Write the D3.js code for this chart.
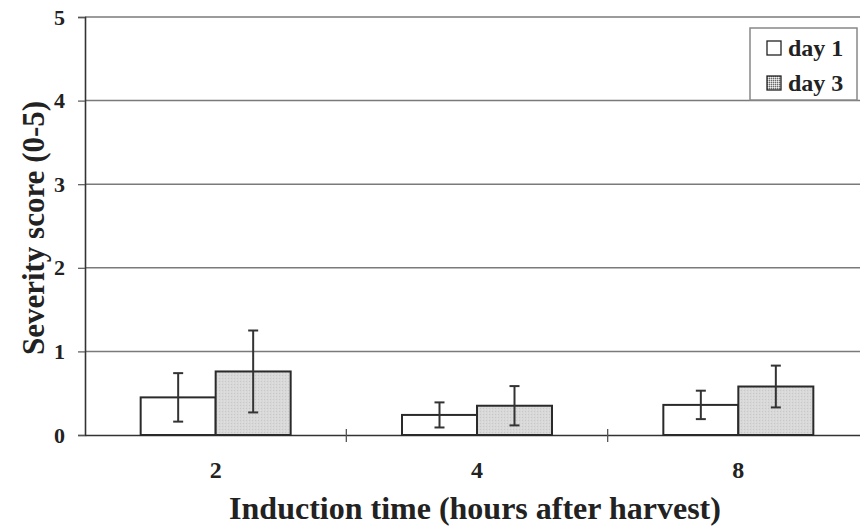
<!DOCTYPE html>
<html>
<head>
<meta charset="utf-8">
<script src="https://cdn.jsdelivr.net/npm/d3@7"></script>
<style>
  html, body { margin: 0; padding: 0; background: #fff; }
  svg { display: block; }
  text { font-family: "Liberation Serif", "Times New Roman", serif; font-weight: bold; fill: #222; }
</style>
</head>
<body>
<svg id="chart" width="860" height="526"></svg>
<script>
// Induction time categories (hours after harvest)
const categories = ["2", "4", "8"];
// Mean severity scores and their error bar half-widths
const day1 = [0.45, 0.24, 0.36];
const day1Err = [0.29, 0.15, 0.17];
const day3 = [0.76, 0.35, 0.58];
const day3Err = [0.49, 0.235, 0.25];
const seriesNames = ["day 1", "day 3"];
const yTicks = [0, 1, 2, 3, 4, 5];

const svg = d3.select("#chart");
const margin = { left: 85, right: -9, top: 17, bottom: 91 };
const W = 860, H = 526;
const serif = "'Liberation Serif', 'Times New Roman', serif";

const x = d3.scaleBand().domain(categories)
  .range([margin.left, W - margin.right]).paddingInner(0).paddingOuter(0);
const y = d3.scaleLinear().domain([0, 5]).range([H - margin.bottom, margin.top]);

// stippled grey fill for the day 3 series
const defs = svg.append("defs");
const pat = defs.append("pattern").attr("id", "stipple")
  .attr("patternUnits", "userSpaceOnUse").attr("width", 3).attr("height", 3);
pat.append("rect").attr("width", 3).attr("height", 3).attr("fill", "#d8d8d8");
pat.append("rect").attr("x", 0).attr("y", 0).attr("width", 1).attr("height", 1).attr("fill", "#c8c8c8");
pat.append("rect").attr("x", 2).attr("y", 1.5).attr("width", 1).attr("height", 1).attr("fill", "#e4e4e4");

const patDark = defs.append("pattern").attr("id", "stippleDark")
  .attr("patternUnits", "userSpaceOnUse").attr("width", 2).attr("height", 2);
patDark.append("rect").attr("width", 2).attr("height", 2).attr("fill", "#bdbdbd");
patDark.append("rect").attr("width", 1).attr("height", 1).attr("fill", "#6a6a6a");
patDark.append("rect").attr("x", 1).attr("y", 1).attr("width", 1).attr("height", 1).attr("fill", "#eee");

// horizontal gridlines
svg.append("g").selectAll("line").data(yTicks.filter(d => d > 0)).join("line")
  .attr("x1", margin.left).attr("x2", W)
  .attr("y1", d => y(d)).attr("y2", d => y(d))
  .attr("stroke", "#7a7a7a").attr("stroke-width", 1.5);

// y axis
const yAxis = d3.axisLeft(y).tickValues(yTicks).tickSize(7).tickPadding(13).tickFormat(d3.format("d"));
const gy = svg.append("g").attr("transform", `translate(${margin.left},0)`).call(yAxis)
  .attr("font-family", serif).attr("font-size", 22);
gy.select(".domain").attr("stroke", "#333").attr("stroke-width", 1.6);
gy.selectAll(".tick line").attr("stroke", "#555").attr("stroke-width", 1.2);
gy.selectAll(".tick text").attr("fill", "#222")
  .style("font-family", serif).style("font-weight", "bold").style("font-size", "22px");

// x axis
const gx = svg.append("g").attr("transform", `translate(0,${y(0)})`)
  .call(d3.axisBottom(x).tickSize(0).tickPadding(26))
  .attr("font-family", serif).attr("font-size", 24);
gx.select(".domain").attr("stroke", "#333").attr("stroke-width", 1.6);
gx.selectAll(".tick text").attr("fill", "#222")
  .style("font-family", serif).style("font-weight", "bold").style("font-size", "24px");

// category divider ticks on the x axis
svg.append("g").selectAll("line").data(categories.slice(1)).join("line")
  .attr("x1", d => x(d)).attr("x2", d => x(d))
  .attr("y1", y(0) - 6).attr("y2", y(0) + 7)
  .attr("stroke", "#555").attr("stroke-width", 1.3);

// grouped bars
const groupWidth = 150;
const rows = categories.map((c, i) => ({
  cat: c,
  vals: [
    { s: seriesNames[0], v: day1[i], e: day1Err[i] },
    { s: seriesNames[1], v: day3[i], e: day3Err[i] }
  ]
}));

const groups = svg.append("g").selectAll("g").data(rows).join("g");
groups.each(function (row) {
  const cx = x(row.cat) + x.bandwidth() / 2;
  const x1 = d3.scaleBand().domain(seriesNames).range([cx - groupWidth / 2, cx + groupWidth / 2]);
  const g = d3.select(this);
  g.selectAll("rect").data(row.vals).join("rect")
    .attr("x", d => x1(d.s)).attr("width", x1.bandwidth())
    .attr("y", d => y(d.v)).attr("height", d => y(0) - y(d.v))
    .attr("fill", d => d.s === "day 1" ? "#fff" : "url(#stipple)")
    .attr("stroke", "#2a2a2a").attr("stroke-width", 2);

  const eb = g.selectAll("g.err").data(row.vals).join("g").attr("class", "err");
  const ex = d => x1(d.s) + x1.bandwidth() / 2;
  eb.append("line").attr("x1", ex).attr("x2", ex)
    .attr("y1", d => y(d.v + d.e)).attr("y2", d => y(d.v - d.e))
    .attr("stroke", "#333").attr("stroke-width", 2);
  eb.append("line").attr("x1", d => ex(d) - 5).attr("x2", d => ex(d) + 5)
    .attr("y1", d => y(d.v + d.e)).attr("y2", d => y(d.v + d.e))
    .attr("stroke", "#333").attr("stroke-width", 2);
  eb.append("line").attr("x1", d => ex(d) - 5).attr("x2", d => ex(d) + 5)
    .attr("y1", d => y(d.v - d.e)).attr("y2", d => y(d.v - d.e))
    .attr("stroke", "#333").attr("stroke-width", 2);
});

// axis titles
svg.append("text").attr("transform", "translate(44,228) rotate(-90)")
  .attr("text-anchor", "middle").style("font-size", "31px")
  .text("Severity score (0-5)");
svg.append("text").attr("x", 475).attr("y", 519)
  .attr("text-anchor", "middle").style("font-size", "32px")
  .text("Induction time (hours after harvest)");

// legend
const lg = svg.append("g");
lg.append("rect").attr("x", 750).attr("y", 28).attr("width", 107).attr("height", 72)
  .attr("fill", "#fff").attr("stroke", "#888").attr("stroke-width", 1.5);
const items = lg.selectAll("g").data(seriesNames).join("g")
  .attr("transform", (d, i) => `translate(767,${41 + i * 35})`);
items.append("rect").attr("width", 14).attr("height", 14)
  .attr("fill", (d, i) => i === 0 ? "#fff" : "url(#stippleDark)")
  .attr("stroke", "#222").attr("stroke-width", 1.3);
items.append("text").attr("x", 21).attr("y", 15)
  .style("font-size", "24px").text(d => d);
</script>
</body>
</html>
